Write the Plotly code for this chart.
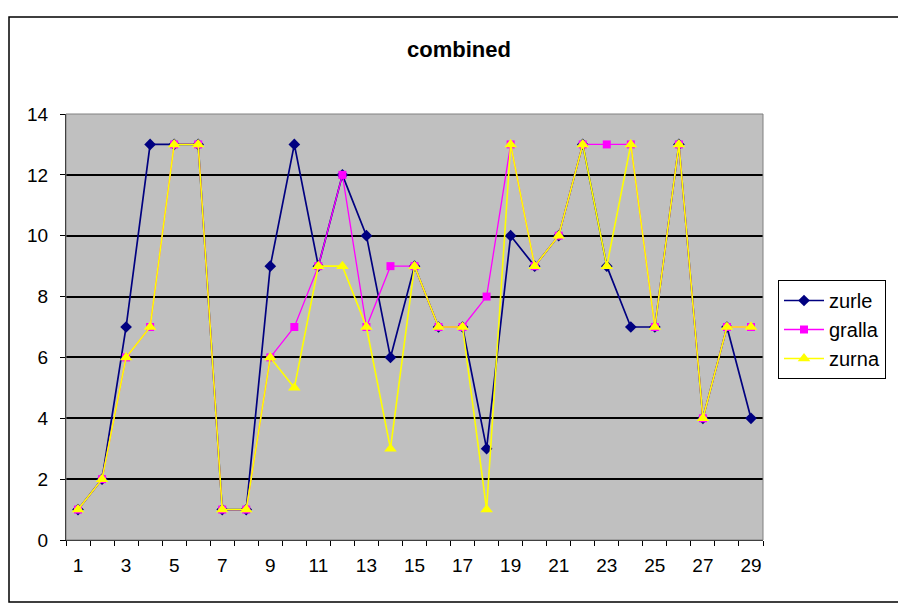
import plotly.graph_objects as go

x = list(range(1, 30))
zurle = [1, 2, 7, 13, 13, 13, 1, 1, 9, 13, 9, 12, 10, 6, 9, 7, 7, 3, 10, 9, 10, 13, 9, 7, 7, 13, 4, 7, 4]
gralla = [1, 2, 6, 7, 13, 13, 1, 1, 6, 7, 9, 12, 7, 9, 9, 7, 7, 8, 13, 9, 10, 13, 13, 13, 7, 13, 4, 7, 7]
zurna = [1, 2, 6, 7, 13, 13, 1, 1, 6, 5, 9, 9, 7, 3, 9, 7, 7, 1, 13, 9, 10, 13, 9, 13, 7, 13, 4, 7, 7]
x_tick_labels = [str(v) for v in range(1, 30, 2)]
y_ticks = list(range(0, 15, 2))

FONT = "Liberation Sans, Arial, sans-serif"
NARROW = "Liberation Sans Narrow, Arial Narrow, Liberation Sans, sans-serif"

# page body margin offsets the figure by 8px
OFF = 8
W, H = 906 - OFF, 606 - OFF
L, R, T, B = 66 - OFF, 763 - OFF, 114 - OFF, 540 - OFF
pw, ph = R - L, B - T


def px(v):
    return (v - OFF - L) / pw


def py(v):
    return (B - (v - OFF)) / ph


fig = go.Figure()
fig.add_trace(go.Scatter(x=x, y=zurle, name="zurle", mode="lines+markers",
                         line=dict(color="#000080", width=1.7),
                         marker=dict(symbol="diamond", size=9, color="#000080")))
fig.add_trace(go.Scatter(x=x, y=gralla, name="gralla", mode="lines+markers",
                         line=dict(color="#FF00FF", width=1.3),
                         marker=dict(symbol="square", size=8, color="#FF00FF")))
fig.add_trace(go.Scatter(x=x, y=zurna, name="zurna", mode="lines+markers",
                         line=dict(color="#FFFF00", width=1.6),
                         marker=dict(symbol="triangle-up", size=11, color="#FFFF00")))

fig.update_layout(
    width=W, height=H,
    margin=dict(l=L, r=W - R, t=T, b=H - B),
    paper_bgcolor="white",
    plot_bgcolor="#C0C0C0",
    font=dict(family=FONT, color="black", size=14),
    title=dict(text="<b>combined</b>", x=px(459), xanchor="center", xref="paper",
               y=1 - (49 - OFF) / H, yanchor="middle", font=dict(size=22, family=FONT)),
    showlegend=True,
    legend=dict(x=px(778), y=py(280), xanchor="left", yanchor="top",
                bgcolor="white", bordercolor="black", borderwidth=1,
                font=dict(size=20, family=FONT), itemwidth=40,
                tracegroupgap=0),
    xaxis=dict(range=[0.5, 29.5], tickmode="array", tickvals=list(range(1, 30, 2)),
               ticktext=x_tick_labels, ticks="", showgrid=False, zeroline=False,
               showline=True, linecolor="black", linewidth=1,
               minor=dict(ticks="outside", tickmode="array",
                          tickvals=[i + 0.5 for i in range(0, 30)],
                          ticklen=5, tickcolor="black", showgrid=False),
               tickfont=dict(size=19, family=NARROW), ticklabelstandoff=8),
    yaxis=dict(range=[0, 14], tickvals=y_ticks, ticks="outside", ticklen=5,
               tickcolor="black", showgrid=True, gridcolor="black", gridwidth=1.5,
               zeroline=False, showline=True, linecolor="black", linewidth=1,
               tickfont=dict(size=19, family=NARROW), ticklabelstandoff=8),
    shapes=[
        dict(type="rect", xref="paper", yref="paper", x0=0, x1=1, y0=0, y1=1,
             line=dict(color="#808080", width=1), layer="above"),
        dict(type="rect", xref="paper", yref="paper",
             x0=px(9), x1=px(902), y0=py(602), y1=py(17),
             line=dict(color="black", width=1.5), layer="below"),
    ],
)

fig.write_html("out.html")
